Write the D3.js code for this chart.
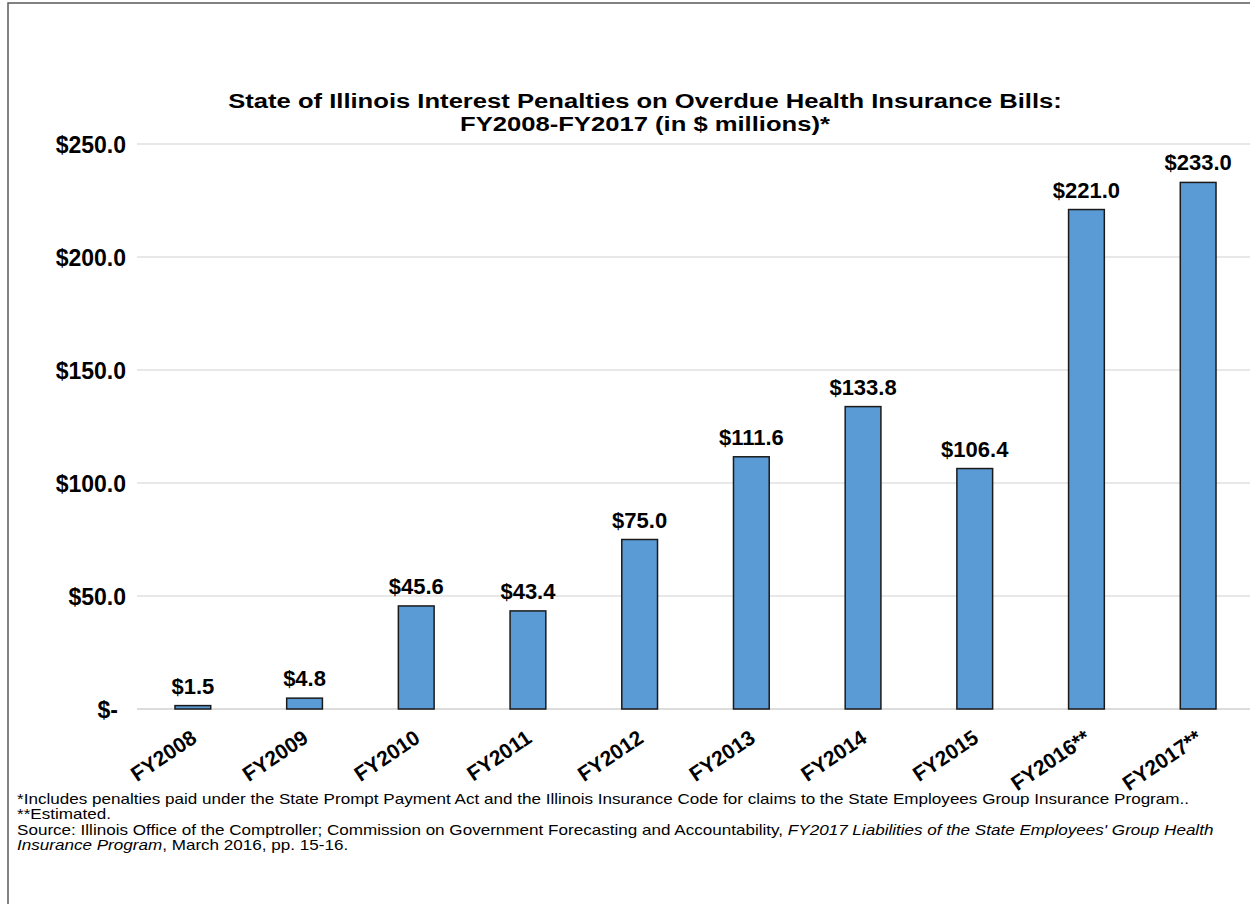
<!DOCTYPE html>
<html>
<head>
<meta charset="utf-8">
<script src="https://cdn.jsdelivr.net/npm/d3@7"></script>
<style>
  body { margin: 0; background: #fff; }
  svg { display: block; font-family: 'Liberation Sans', Arial, sans-serif; }
</style>
</head>
<body>
<div id="chart"></div>
<script>
var years = ['FY2008', 'FY2009', 'FY2010', 'FY2011', 'FY2012',
             'FY2013', 'FY2014', 'FY2015', 'FY2016**', 'FY2017**'];
var penalties = [1.5, 4.8, 45.6, 43.4, 75.0, 111.6, 133.8, 106.4, 221.0, 233.0];
var yTicks = [0, 50, 100, 150, 200, 250];
var titleLines = ['State of Illinois Interest Penalties on Overdue Health Insurance Bills:',
                  'FY2008-FY2017 (in $ millions)*'];

var width = 1250,
    height = 904;

var svg = d3.select('#chart').append('svg')
    .attr('width', width)
    .attr('height', height);

// outer frame
svg.append('rect')
  .attr('x', 8)
  .attr('y', 3)
  .attr('width', 1260)
  .attr('height', 920)
  .style('fill', 'none')
  .style('stroke', '#595959')
  .style('stroke-width', 1.5);

var x = d3.scaleBand()
    .domain(years)
    .range([137, 1254])
    .paddingInner(0.68)
    .paddingOuter(0.34);

var y = d3.scaleLinear()
    .domain([0, 250])
    .range([709, 144]);

// gridlines
svg.append('g')
  .selectAll('line')
  .data(yTicks)
  .enter()
  .append('line')
  .attr('x1', 137)
  .attr('x2', 1254)
  .attr('y1', function(d) { return y(d); })
  .attr('y2', function(d) { return y(d); })
  .style('stroke', function(d) { return d === 0 ? '#d0d0d0' : '#e0e0e0'; })
  .style('stroke-width', 1.5);

// y axis labels
var yAxis = d3.axisLeft()
    .scale(y)
    .tickValues(yTicks)
    .tickSize(0)
    .tickPadding(0)
    .tickFormat(function(d) {
      return d === 0 ? '$-' : '$' + d3.format('.1f')(d);
    });

var yG = svg.append('g')
  .attr('transform', 'translate(126,0)')
  .call(yAxis);
yG.select('.domain').remove();
yG.selectAll('text')
  .attr('dy', '0.35em')
  .attr('dx', function(d) { return d === 0 ? -8 : 0; })
  .style('font-family', "'Liberation Sans', Arial, sans-serif")
  .style('font-size', '23px')
  .style('font-weight', 'bold')
  .style('fill', '#000');

// bars
svg.selectAll('.bar')
  .data(penalties)
  .enter()
  .append('rect')
  .attr('class', 'bar')
  .attr('x', function(d, i) { return x(years[i]); })
  .attr('y', function(d) { return y(d); })
  .attr('width', x.bandwidth())
  .attr('height', function(d) { return y(0) - y(d); })
  .style('fill', '#5b9bd5')
  .style('stroke', '#1a1a1a')
  .style('stroke-width', 1.5);

// value labels
svg.selectAll('.value')
  .data(penalties)
  .enter()
  .append('text')
  .attr('class', 'value')
  .attr('x', function(d, i) { return x(years[i]) + x.bandwidth() / 2; })
  .attr('y', function(d) { return y(d) - 12; })
  .attr('text-anchor', 'middle')
  .style('font-size', '22px')
  .style('font-weight', 'bold')
  .text(function(d) { return '$' + d3.format('.1f')(d); });

// x labels
svg.selectAll('.xlab')
  .data(years)
  .enter()
  .append('text')
  .attr('class', 'xlab')
  .attr('text-anchor', 'end')
  .attr('transform', function(d) {
    var cx = x(d) + x.bandwidth() / 2 - 3;
    return 'translate(' + cx + ',729) rotate(-34)';
  })
  .attr('dy', '0.7em')
  .style('font-size', '21px')
  .style('font-weight', 'bold')
  .text(function(d) { return d; });

// title (stretched horizontally like the original)
svg.append('g')
  .attr('transform', 'translate(645,0) scale(1.22,1)')
  .selectAll('text')
  .data(titleLines)
  .enter()
  .append('text')
  .attr('x', 0)
  .attr('y', function(d, i) { return 108 + i * 23; })
  .attr('text-anchor', 'middle')
  .style('font-size', '21px')
  .style('font-weight', 'bold')
  .text(function(d) { return d; });

// footnotes
var notes = svg.append('g')
  .attr('transform', 'translate(17,0) scale(1.22,1)')
  .style('font-size', '14px')
  .style('fill', '#000');

notes.append('text')
  .attr('x', 0).attr('y', 804)
  .text('*Includes penalties paid under the State Prompt Payment Act and the Illinois Insurance Code for claims to the State Employees Group Insurance Program..');
notes.append('text')
  .attr('x', 0).attr('y', 819)
  .text('**Estimated.');
var src = notes.append('text')
  .attr('x', 0).attr('y', 835);
src.append('tspan')
  .text('Source: Illinois Office of the Comptroller; Commission on Government Forecasting and Accountability, ');
src.append('tspan')
  .style('font-style', 'italic')
  .text("FY2017 Liabilities of the State Employees' Group Health");
var src2 = notes.append('text')
  .attr('x', 0).attr('y', 850);
src2.append('tspan')
  .style('font-style', 'italic')
  .text('Insurance Program');
src2.append('tspan')
  .text(', March 2016, pp. 15-16.');
</script>
</body>
</html>
